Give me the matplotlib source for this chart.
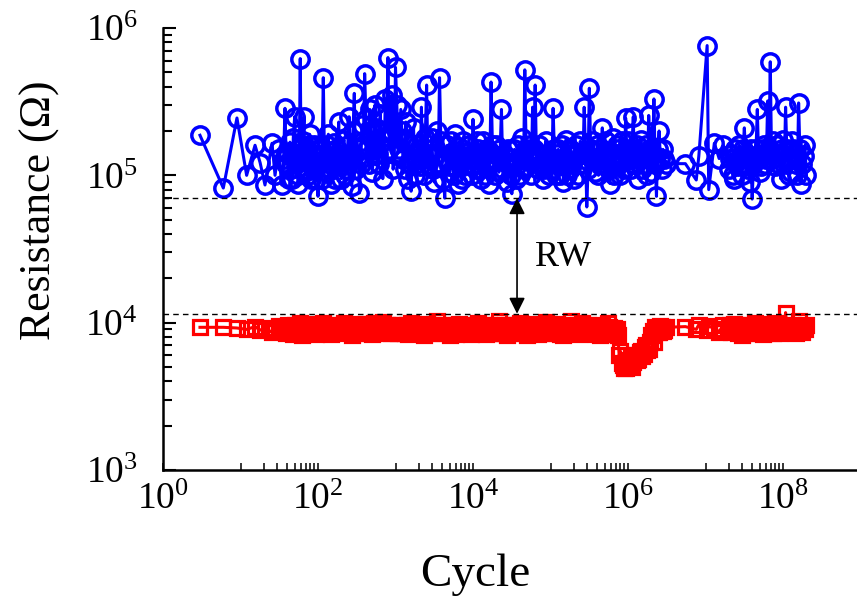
import matplotlib.pyplot as plt
import numpy as np
from matplotlib.ticker import FixedLocator, LogFormatterMathtext, LogLocator, NullFormatter

plt.rcParams["font.family"] = "Liberation Serif"
plt.rcParams["mathtext.fontset"] = "custom"
plt.rcParams["mathtext.rm"] = "Liberation Serif"
plt.rcParams["mathtext.it"] = "Liberation Serif:italic"
plt.rcParams["mathtext.bf"] = "Liberation Serif:bold"

# cycle number of each read-out
cycles = [
    3, 6, 9,
    12, 15.4, 17.9, 20.7, 25.5, 27.9, 31, 34, 36, 37.5,
    39, 40.5, 42, 43.5, 45, 46.5, 48, 50, 51.5, 53,
    54.5, 56, 57.5, 59, 60.5, 62, 64, 66, 68, 70,
    72, 74, 76, 78, 80.5, 83, 85.5, 88, 91, 94, 97,
    100, 104, 108, 112, 117, 121, 126, 131, 136, 141,
    147, 153, 159, 165, 171, 178, 185, 192, 200, 208,
    216, 224, 233, 242, 252, 262, 272, 283, 294, 305,
    317, 330, 343, 356, 370, 385, 400, 416, 432, 449,
    466, 485, 503, 523, 544, 565, 587, 610, 634, 659,
    685, 712, 740, 769, 799, 830, 863, 897, 932, 966,
    1000, 1040, 1080, 1120, 1170, 1210, 1260, 1310, 1360, 1410,
    1470, 1530, 1590, 1650, 1710, 1780, 1850, 1920, 2000, 2080,
    2160, 2240, 2330, 2420, 2520, 2620, 2720, 2830, 2940, 3050,
    3170, 3300, 3430, 3560, 3700, 3850, 4000, 4160, 4320, 4490,
    4660, 4850, 5030, 5230, 5440, 5650, 5870, 6100, 6340, 6590,
    6850, 7120, 7400, 7690, 7990, 8300, 8630, 8970, 9320, 9660,
    1.00e4, 1.04e4, 1.08e4, 1.12e4, 1.17e4, 1.21e4, 1.26e4, 1.31e4, 1.36e4, 1.41e4,
    1.47e4, 1.53e4, 1.59e4, 1.65e4, 1.71e4, 1.78e4, 1.85e4, 1.92e4, 2.00e4, 2.08e4,
    2.16e4, 2.24e4, 2.33e4, 2.42e4, 2.52e4, 2.62e4, 2.72e4, 2.83e4, 2.94e4, 3.05e4,
    3.17e4, 3.30e4, 3.43e4, 3.56e4, 3.70e4, 3.85e4, 4.00e4, 4.16e4, 4.32e4, 4.49e4,
    4.66e4, 4.85e4, 5.03e4, 5.23e4, 5.44e4, 5.65e4, 5.87e4, 6.10e4, 6.34e4, 6.59e4,
    6.85e4, 7.12e4, 7.40e4, 7.69e4, 7.99e4, 8.30e4, 8.63e4, 8.97e4, 9.32e4, 9.66e4,
    1.00e5, 1.04e5, 1.08e5, 1.12e5, 1.17e5, 1.21e5, 1.26e5, 1.31e5, 1.36e5, 1.41e5,
    1.47e5, 1.53e5, 1.59e5, 1.65e5, 1.71e5, 1.78e5, 1.85e5, 1.92e5, 2.00e5, 2.08e5,
    2.16e5, 2.24e5, 2.33e5, 2.42e5, 2.52e5, 2.62e5, 2.72e5, 2.83e5, 2.94e5, 3.05e5,
    3.17e5, 3.30e5, 3.43e5, 3.56e5, 3.70e5, 3.85e5, 4.00e5, 4.16e5, 4.32e5, 4.49e5,
    4.66e5, 4.85e5, 5.03e5, 5.23e5, 5.44e5, 5.65e5, 5.87e5, 6.10e5, 6.34e5, 6.59e5,
    6.85e5, 7.12e5, 7.40e5, 7.69e5, 7.99e5, 8.30e5, 8.63e5, 8.97e5, 9.32e5, 9.66e5,
    1.00e6, 1.04e6, 1.08e6, 1.12e6, 1.17e6, 1.21e6, 1.26e6, 1.31e6, 1.36e6, 1.41e6,
    1.47e6, 1.53e6, 1.59e6, 1.65e6, 1.71e6, 1.78e6, 1.85e6, 1.92e6, 2.00e6, 2.08e6,
    2.16e6, 2.24e6, 2.33e6, 2.42e6, 2.52e6, 2.62e6, 2.72e6, 2.83e6, 2.94e6, 3.05e6,
    5.5e6, 7.6e6, 8.2e6, 1.05e7, 1.1e7, 1.3e7, 1.5e7, 1.7e7,
    2.00e7, 2.08e7, 2.16e7, 2.24e7, 2.33e7, 2.42e7, 2.52e7, 2.62e7, 2.72e7, 2.83e7,
    2.94e7, 3.05e7, 3.17e7, 3.30e7, 3.43e7, 3.56e7, 3.70e7, 3.85e7, 4.00e7, 4.16e7,
    4.32e7, 4.49e7, 4.66e7, 4.85e7, 5.03e7, 5.23e7, 5.44e7, 5.65e7, 5.87e7, 6.10e7,
    6.34e7, 6.59e7, 6.85e7, 7.12e7, 7.40e7, 7.69e7, 7.99e7, 8.30e7, 8.63e7, 8.97e7,
    9.32e7, 9.66e7, 1.00e8, 1.04e8, 1.08e8, 1.12e8, 1.17e8, 1.21e8, 1.26e8, 1.31e8,
    1.36e8, 1.41e8, 1.47e8, 1.53e8, 1.59e8, 1.65e8, 1.71e8, 1.78e8, 1.85e8, 1.92e8,
    2.00e8,
]

# high resistance state, kOhm
hrs_kohm = [
    187, 82, 245,
    100, 160, 122, 86, 165, 100, 150, 86, 130, 285,
    120, 140, 95, 168, 110, 95, 180, 250, 120, 130,
    100, 88, 150, 620, 130, 115, 170, 250, 105, 150,
    125, 100, 160, 190, 95, 120, 140, 160, 110, 95, 135,
    72, 120, 150, 95, 460, 140, 105, 160, 190, 110,
    88, 135, 165, 95, 120, 150, 230, 115, 95, 140,
    175, 100, 110, 160, 250, 130, 85, 200, 360, 110,
    130, 150, 76, 120, 220, 170, 490, 240, 150, 120,
    280, 200, 105, 150, 300, 210, 140, 120, 260, 180,
    95, 140, 330, 200, 630, 150, 200, 350, 110, 140,
    540, 300, 180, 150, 280, 200, 130, 110, 230, 170,
    95, 120, 78, 140, 210, 100, 120, 160, 150, 115,
    290, 130, 100, 180, 410, 120, 135, 150, 180, 110,
    90, 140, 200, 120, 460, 170, 120, 95, 70, 130,
    160, 115, 105, 170, 140, 100, 190, 125, 88, 155,
    130, 95, 170, 135, 100, 120, 145, 160, 115, 100,
    240, 130, 110, 170, 150, 120, 95, 140, 170, 100,
    120, 150, 88, 120, 430, 160, 130, 100, 160, 135,
    105, 150, 280, 110, 140, 125, 90, 150, 118, 100,
    75, 120, 150, 95, 125, 160, 100, 130, 180, 110,
    520, 150, 115, 130, 160, 100, 290, 150, 410, 130,
    110, 160, 140, 120, 95, 110, 170, 140, 120, 100,
    130, 110, 285, 150, 100, 140, 150, 100, 120, 160,
    90, 130, 175, 100, 110, 150, 140, 120, 95, 140,
    160, 100, 120, 170, 145, 120, 290, 140, 61, 110,
    390, 150, 130, 170, 105, 130, 160, 100, 120, 150,
    210, 130, 115, 170, 140, 110, 88, 130, 180, 100,
    125, 160, 150, 120, 100, 170, 135, 110, 245, 150,
    170, 130, 110, 150, 250, 120, 140, 160, 95, 130,
    175, 110, 120, 140, 160, 100, 255, 150, 105, 140,
    330, 120, 72, 150, 200, 130, 110, 150, 130, 120,
    120, 93, 135, 760, 80, 165, 130, 160,
    110, 130, 140, 100, 95, 150, 125, 115, 160, 130,
    100, 150, 210, 140, 120, 110, 90, 150, 69, 120,
    135, 150, 280, 130, 105, 115, 150, 160, 120, 130,
    320, 150, 590, 130, 170, 140, 115, 160, 140, 120,
    95, 150, 175, 120, 290, 150, 130, 100, 105, 170,
    150, 140, 120, 100, 310, 150, 88, 120, 135, 160,
    100,
]

# low resistance state, kOhm
lrs_kohm = [
    9.3, 9.3, 9.2,
    9.0, 9.4, 8.9, 9.2, 8.6, 9.1, 9.5, 8.8, 9.0, 9.3,
    8.5, 9.7, 9.0, 8.7, 9.4, 9.2, 8.4, 9.6, 9.1, 8.8,
    9.3, 9.5, 8.6, 9.9, 9.0, 8.3, 9.2, 9.7, 8.7, 9.4,
    9.6, 8.5, 9.1, 9.8, 8.8, 9.3, 8.6, 9.5, 9.0, 8.4, 9.2,
    9.4, 9.0, 8.6, 9.5, 9.9, 8.8, 8.8, 9.3, 9.2, 8.7,
    8.4, 9.6, 9.7, 8.9, 9.0, 9.4, 8.5, 9.1, 9.3, 8.6,
    10.0, 9.2, 8.7, 9.5, 9.1, 8.8, 8.3, 9.7, 9.6, 9.0,
    8.9, 8.5, 9.4, 9.8, 8.5, 9.2, 9.8, 8.7, 8.8, 9.3,
    9.2, 8.6, 8.4, 9.9, 9.5, 8.8, 9.0, 9.4, 8.6, 9.1,
    10.1, 8.7, 8.8, 9.6, 9.3, 8.5, 8.5, 9.2, 9.7, 8.9,
    9.0, 9.4, 8.5, 8.9, 9.6, 9.1, 8.8, 8.5, 9.3, 9.7,
    8.4, 9.0, 9.9, 9.2, 8.7, 8.6, 9.2, 9.5, 8.6, 8.9,
    9.5, 9.1, 8.3, 8.8, 9.8, 9.4, 8.9, 8.6, 9.1, 9.6,
    8.5, 9.0, 10.2, 9.3, 8.8, 8.5, 9.4, 9.7, 8.6, 9.0,
    9.0, 8.7, 8.3, 9.5, 9.7, 9.1, 8.9, 8.4, 9.3, 9.8,
    8.5, 8.8, 9.6, 9.2, 8.7, 8.6, 9.1, 9.5, 8.4, 9.0,
    9.5, 9.1, 8.8, 9.6, 10.0, 8.9, 8.6, 9.4, 9.2, 8.7,
    8.4, 9.3, 9.7, 9.0, 8.9, 8.5, 9.3, 9.6, 8.5, 9.1,
    10.3, 9.4, 8.7, 8.5, 9.0, 9.6, 8.2, 8.8, 9.6, 9.2,
    8.8, 8.5, 9.4, 9.7, 8.5, 8.9, 9.9, 9.3, 8.7, 8.6,
    9.1, 9.5, 8.3, 8.8, 9.8, 9.4, 8.9, 8.6, 9.2, 9.7,
    8.4, 9.0, 9.6, 9.3, 8.6, 8.5, 10.1, 9.2, 8.8, 9.0,
    9.3, 8.9, 8.5, 9.6, 9.8, 9.0, 8.7, 8.4, 9.1, 9.5,
    8.3, 8.8, 9.6, 9.3, 8.9, 8.6, 10.2, 9.1, 8.6, 8.5,
    9.4, 9.7, 8.4, 8.9, 9.9, 9.2, 8.8, 8.5, 9.2, 9.6,
    8.5, 8.8, 9.7, 9.3, 8.7, 8.4, 9.0, 9.5, 8.3, 8.9,
    9.5, 9.1, 8.6, 8.4, 9.9, 9.3, 8.4, 8.8, 8.9, 9.2,
    8.6, 9.0, 8.2, 6.0, 6.4, 5.3, 5.2, 4.9, 4.9, 5.6,
    5.5, 5.2, 5.8, 5.0, 5.4, 6.0, 6.0, 5.6, 5.7, 6.3,
    6.4, 5.9, 6.1, 6.8, 7.0, 6.5, 6.6, 7.4, 8.2, 8.8,
    7.4, 9.3, 9.0, 8.6, 8.6, 9.5, 9.4, 8.8, 8.9, 9.3,
    9.4, 9.0, 9.7, 8.9, 9.5, 9.1, 8.7, 9.6,
    9.2, 9.6, 8.6, 8.9, 9.8, 9.3, 8.8, 8.5, 9.4, 9.7,
    8.3, 8.8, 9.7, 9.4, 8.9, 8.6, 9.1, 9.5, 8.5, 9.0,
    10.0, 9.3, 8.7, 8.5, 9.3, 9.8, 8.4, 8.9, 9.6, 9.2,
    8.8, 8.6, 9.0, 9.5, 8.5, 8.8, 9.9, 9.2, 8.7, 8.5,
    9.4, 9.0, 8.6, 9.3, 11.7, 9.4, 9.1, 8.6, 8.8, 9.5,
    9.7, 9.0, 8.5, 8.8, 10.2, 9.3, 8.9, 8.6, 9.3, 9.0,
    9.6,
]

hrs_level = 7e4
lrs_level = 1.15e4
arrow_cycle = 3.7e4

fig = plt.figure(figsize=(8.57, 6.03), dpi=100)
ax = fig.add_axes([163 / 857, 133 / 603, 697.5 / 857, 442 / 603])

ax.plot(cycles, np.array(lrs_kohm) * 1e3, color="#ff0000", marker="s", ms=10,
        mfc="none", mew=2.3, lw=2.2)
ax.plot(cycles, np.array(hrs_kohm) * 1e3, color="#0000ff", marker="o", ms=12.5,
        mfc="none", mew=2.5, lw=2.2)

ax.set_xscale("log")
ax.set_yscale("log")
ax.set_xlim(1, 1e9)
ax.set_ylim(1e3, 1e6)

ax.axhline(hrs_level, color="black", ls=(0, (4, 3)), lw=1)
ax.axhline(lrs_level, color="black", ls=(0, (4, 3)), lw=1)
ax.annotate("", xy=(arrow_cycle, hrs_level), xytext=(arrow_cycle, lrs_level),
            arrowprops=dict(arrowstyle="<|-|>", color="black", lw=1.2,
                            mutation_scale=24, shrinkA=0, shrinkB=0))
ax.text(1.45e5, 2.77e4, "RW", fontsize=26, ha="center", va="center")

for side in ("top", "right"):
    ax.spines[side].set_visible(False)
for side in ("left", "bottom"):
    ax.spines[side].set_linewidth(1.8)

ax.xaxis.set_major_locator(FixedLocator([1e0, 1e2, 1e4, 1e6, 1e8]))
ax.xaxis.set_major_formatter(LogFormatterMathtext())
ax.xaxis.set_minor_locator(FixedLocator(
    [m * 10.0 ** e for e in (1, 3, 5, 7) for m in range(1, 10)]))
ax.xaxis.set_minor_formatter(NullFormatter())
ax.yaxis.set_major_locator(LogLocator(base=10, numticks=10))
ax.yaxis.set_minor_locator(LogLocator(base=10, subs=np.arange(2, 10), numticks=20))
ax.yaxis.set_minor_formatter(NullFormatter())

ax.tick_params(axis="x", which="both", direction="in", length=5, width=1.1,
               top=False, pad=9, labelsize=27)
ax.tick_params(axis="y", which="major", direction="in", length=9, width=1.5,
               right=False, pad=18, labelsize=27)
ax.tick_params(axis="y", which="minor", direction="in", length=6.5, width=1.5,
               right=False)

ax.set_xlabel("Cycle", fontsize=34, va="center")
ax.xaxis.set_label_coords(0.447, -0.2375)
ax.set_ylabel("Resistance (Ω)", fontsize=31.5, va="center")
ax.yaxis.set_label_coords(-0.176, 0.588)

fig.savefig("out.png", dpi=100)
plt.close(fig)
